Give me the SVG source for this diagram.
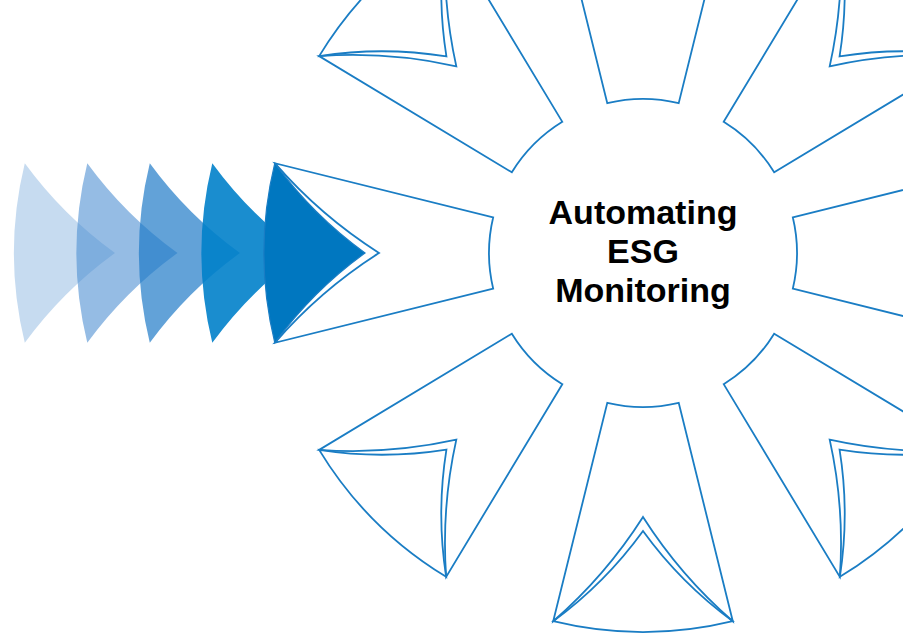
<svg xmlns="http://www.w3.org/2000/svg" xmlns:xlink="http://www.w3.org/1999/xlink" width="903" height="638" viewBox="0 0 903 638">
  <style>
    .line { fill: none; stroke: #1a7dc4; stroke-width: 1.8; stroke-linejoin: miter; }
    .dark { fill: #0077c0; stroke: #1a7dc4; stroke-width: 1.2; }
    .label { font-family: "Liberation Sans", Arial, sans-serif; font-weight: bold; font-size: 34px; fill: #000; text-anchor: middle; }
  </style>
  <defs>
    <path id="body" d="M149.8,-35.7 L368.2,-89.8 Q322.6,-37.3 264,0 Q322.6,37.3 368.2,89.8 L149.8,35.7 A154,154 0 0 0 149.8,-35.7 Z"/>
    <path id="head" d="M368.2,-89.8 Q330.2,-37.8 278,0 Q330.2,37.8 368.2,89.8 A379,379 0 0 0 368.2,-89.8 Z"/>
  </defs>
  <rect width="903" height="638" fill="#ffffff"/>

  <g id="trail">
    <use href="#head" transform="translate(643,253) rotate(180) translate(250,0)" fill="#c6dbf0"/>
    <use href="#head" transform="translate(643,253) rotate(180) translate(187.5,0)" fill="#4e8fd2" fill-opacity="0.6"/>
    <use href="#head" transform="translate(643,253) rotate(180) translate(125,0)" fill="#1f7ac7" fill-opacity="0.7"/>
    <use href="#head" transform="translate(643,253) rotate(180) translate(62.5,0)" fill="#0181ca" fill-opacity="0.9"/>
  </g>

  <g id="spoke-left">
    <use href="#body" class="line" transform="translate(643,253) rotate(180)"/>
    <use href="#head" class="dark" transform="translate(643,253) rotate(180)"/>
  </g>
  <g id="spoke-top-left">
    <use href="#body" class="line" transform="translate(643,253) rotate(225)"/>
    <use href="#head" class="line" transform="translate(643,253) rotate(225)"/>
  </g>
  <g id="spoke-top">
    <use href="#body" class="line" transform="translate(643,253) rotate(270)"/>
    <use href="#head" class="line" transform="translate(643,253) rotate(270)"/>
  </g>
  <g id="spoke-top-right">
    <use href="#body" class="line" transform="translate(643,253) rotate(315)"/>
    <use href="#head" class="line" transform="translate(643,253) rotate(315)"/>
  </g>
  <g id="spoke-right">
    <use href="#body" class="line" transform="translate(643,253) rotate(0)"/>
    <use href="#head" class="line" transform="translate(643,253) rotate(0)"/>
  </g>
  <g id="spoke-bottom-right">
    <use href="#body" class="line" transform="translate(643,253) rotate(45)"/>
    <use href="#head" class="line" transform="translate(643,253) rotate(45)"/>
  </g>
  <g id="spoke-bottom">
    <use href="#body" class="line" transform="translate(643,253) rotate(90)"/>
    <use href="#head" class="line" transform="translate(643,253) rotate(90)"/>
  </g>
  <g id="spoke-bottom-left">
    <use href="#body" class="line" transform="translate(643,253) rotate(135)"/>
    <use href="#head" class="line" transform="translate(643,253) rotate(135)"/>
  </g>

  <g id="center-label">
    <text class="label" x="643" y="224">Automating</text>
    <text class="label" x="643" y="263">ESG</text>
    <text class="label" x="643" y="302">Monitoring</text>
  </g>
</svg>
